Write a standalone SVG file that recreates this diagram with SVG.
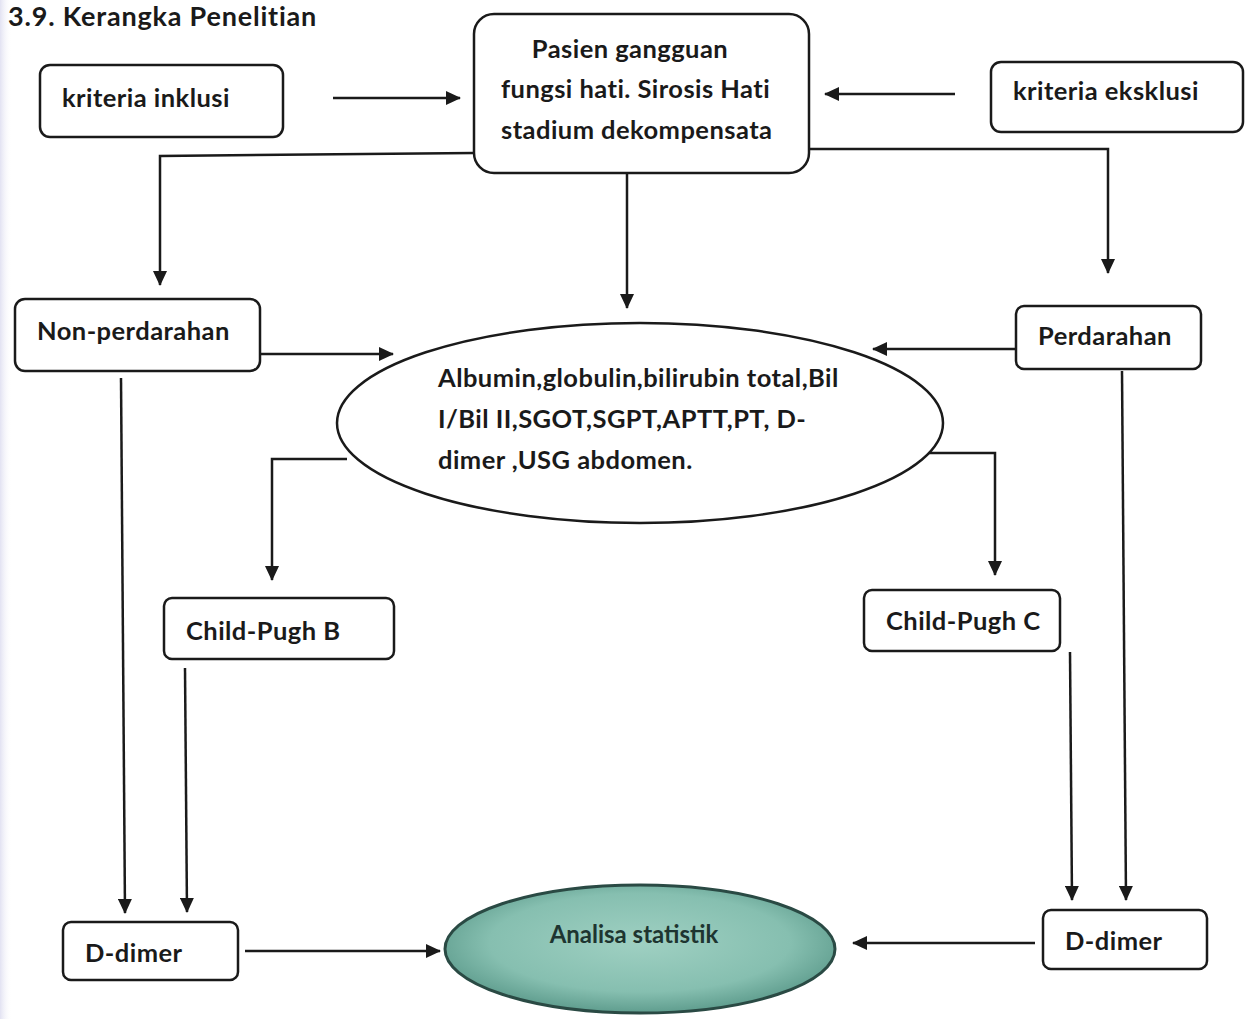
<svg xmlns="http://www.w3.org/2000/svg" width="1245" height="1019" viewBox="0 0 1245 1019">
<defs>
<marker id="ah" markerWidth="16" markerHeight="14" refX="14" refY="7" orient="auto" markerUnits="userSpaceOnUse">
<path d="M0,0 L15,7 L0,14 z" fill="#1a1a1a"/>
</marker>
<radialGradient id="teal" cx="50%" cy="45%" r="55%">
<stop offset="0" stop-color="#9fd0c2"/>
<stop offset="0.7" stop-color="#86bfb0"/>
<stop offset="1" stop-color="#5f9d8e"/>
</radialGradient>
<linearGradient id="strip" x1="0" y1="0" x2="1" y2="0">
<stop offset="0" stop-color="#e2e2f2"/>
<stop offset="1" stop-color="#ffffff" stop-opacity="0"/>
</linearGradient>
</defs>
<style>
.box{fill:#fff;stroke:#1a1a1a;stroke-width:2.5}
.t{font-family:Lato,"Liberation Sans",sans-serif;font-size:25.5px;letter-spacing:0.45px;fill:#1a1a1a;font-weight:bold}
.c{fill:none;stroke:#1a1a1a;stroke-width:2.5}
</style>
<rect width="1245" height="1019" fill="#fff"/>
<rect x="0" y="0" width="12" height="1019" fill="url(#strip)"/>
<text x="8" y="26" font-family="Lato,'Liberation Sans',sans-serif" font-size="27" letter-spacing="0.8" font-weight="bold" fill="#1a1a1a">3.9. Kerangka Penelitian</text>

<g id="connectors">
<path class="c" d="M333,98 L460,98" marker-end="url(#ah)"/>
<path class="c" d="M955,94 L825,94" marker-end="url(#ah)"/>
<path class="c" d="M474,153 L160,156 L160,285" marker-end="url(#ah)"/>
<path class="c" d="M627,173 L627,308" marker-end="url(#ah)"/>
<path class="c" d="M809,149 L1108,149 L1108,273" marker-end="url(#ah)"/>
<path class="c" d="M260,354 L393,354" marker-end="url(#ah)"/>
<path class="c" d="M1016,349 L873,349" marker-end="url(#ah)"/>
<path class="c" d="M347,459 L272,459 L272,580" marker-end="url(#ah)"/>
<path class="c" d="M920,453 L995,453 L995,575" marker-end="url(#ah)"/>
<path class="c" d="M121,378 L125,913" marker-end="url(#ah)"/>
<path class="c" d="M185,668 L187,912" marker-end="url(#ah)"/>
<path class="c" d="M1070,652 L1072,900" marker-end="url(#ah)"/>
<path class="c" d="M1122,371 L1126,900" marker-end="url(#ah)"/>
<path class="c" d="M245,951 L440,951" marker-end="url(#ah)"/>
<path class="c" d="M1035,943 L853,943" marker-end="url(#ah)"/>
</g>

<g id="kriteria-inklusi">
<rect class="box" x="40" y="65" width="243" height="72" rx="10"/>
<text class="t" x="62" y="107">kriteria inklusi</text>
</g>
<g id="pasien">
<rect class="box" x="474" y="14" width="335" height="159" rx="20"/>
<text class="t" x="630" y="58" text-anchor="middle">Pasien gangguan</text>
<text class="t" x="501" y="98">fungsi hati. Sirosis Hati</text>
<text class="t" x="501" y="139">stadium dekompensata</text>
</g>
<g id="kriteria-eksklusi">
<rect class="box" x="991" y="62" width="252" height="70" rx="10"/>
<text class="t" x="1013" y="100">kriteria eksklusi</text>
</g>
<g id="non-perdarahan">
<rect class="box" x="15" y="299" width="245" height="72" rx="10"/>
<text class="t" x="37" y="340">Non-perdarahan</text>
</g>
<g id="pemeriksaan">
<ellipse class="box" cx="640" cy="423" rx="303" ry="100"/>
<text class="t" x="438" y="387">Albumin,globulin,bilirubin total,Bil</text>
<text class="t" x="438" y="428">I/Bil II,SGOT,SGPT,APTT,PT, D-</text>
<text class="t" x="438" y="469">dimer ,USG abdomen.</text>
</g>
<g id="perdarahan">
<rect class="box" x="1016" y="306" width="185" height="63" rx="8"/>
<text class="t" x="1038" y="345">Perdarahan</text>
</g>
<g id="child-pugh-b">
<rect class="box" x="164" y="598" width="230" height="61" rx="8"/>
<text class="t" x="186" y="640">Child-Pugh B</text>
</g>
<g id="child-pugh-c">
<rect class="box" x="864" y="590" width="196" height="61" rx="8"/>
<text class="t" x="886" y="630">Child-Pugh C</text>
</g>
<g id="d-dimer-left">
<rect class="box" x="63" y="922" width="175" height="58" rx="8"/>
<text class="t" x="85" y="962">D-dimer</text>
</g>
<g id="analisa">
<ellipse cx="640" cy="949" rx="195" ry="64" fill="url(#teal)" stroke="#2a4a44" stroke-width="3"/>
<text x="634" y="943" text-anchor="middle" font-family="Lato,'Liberation Sans',sans-serif" font-size="24" font-weight="bold" fill="#1e3530">Analisa statistik</text>
</g>
<g id="d-dimer-right">
<rect class="box" x="1043" y="910" width="164" height="59" rx="8"/>
<text class="t" x="1065" y="950">D-dimer</text>
</g>
</svg>
